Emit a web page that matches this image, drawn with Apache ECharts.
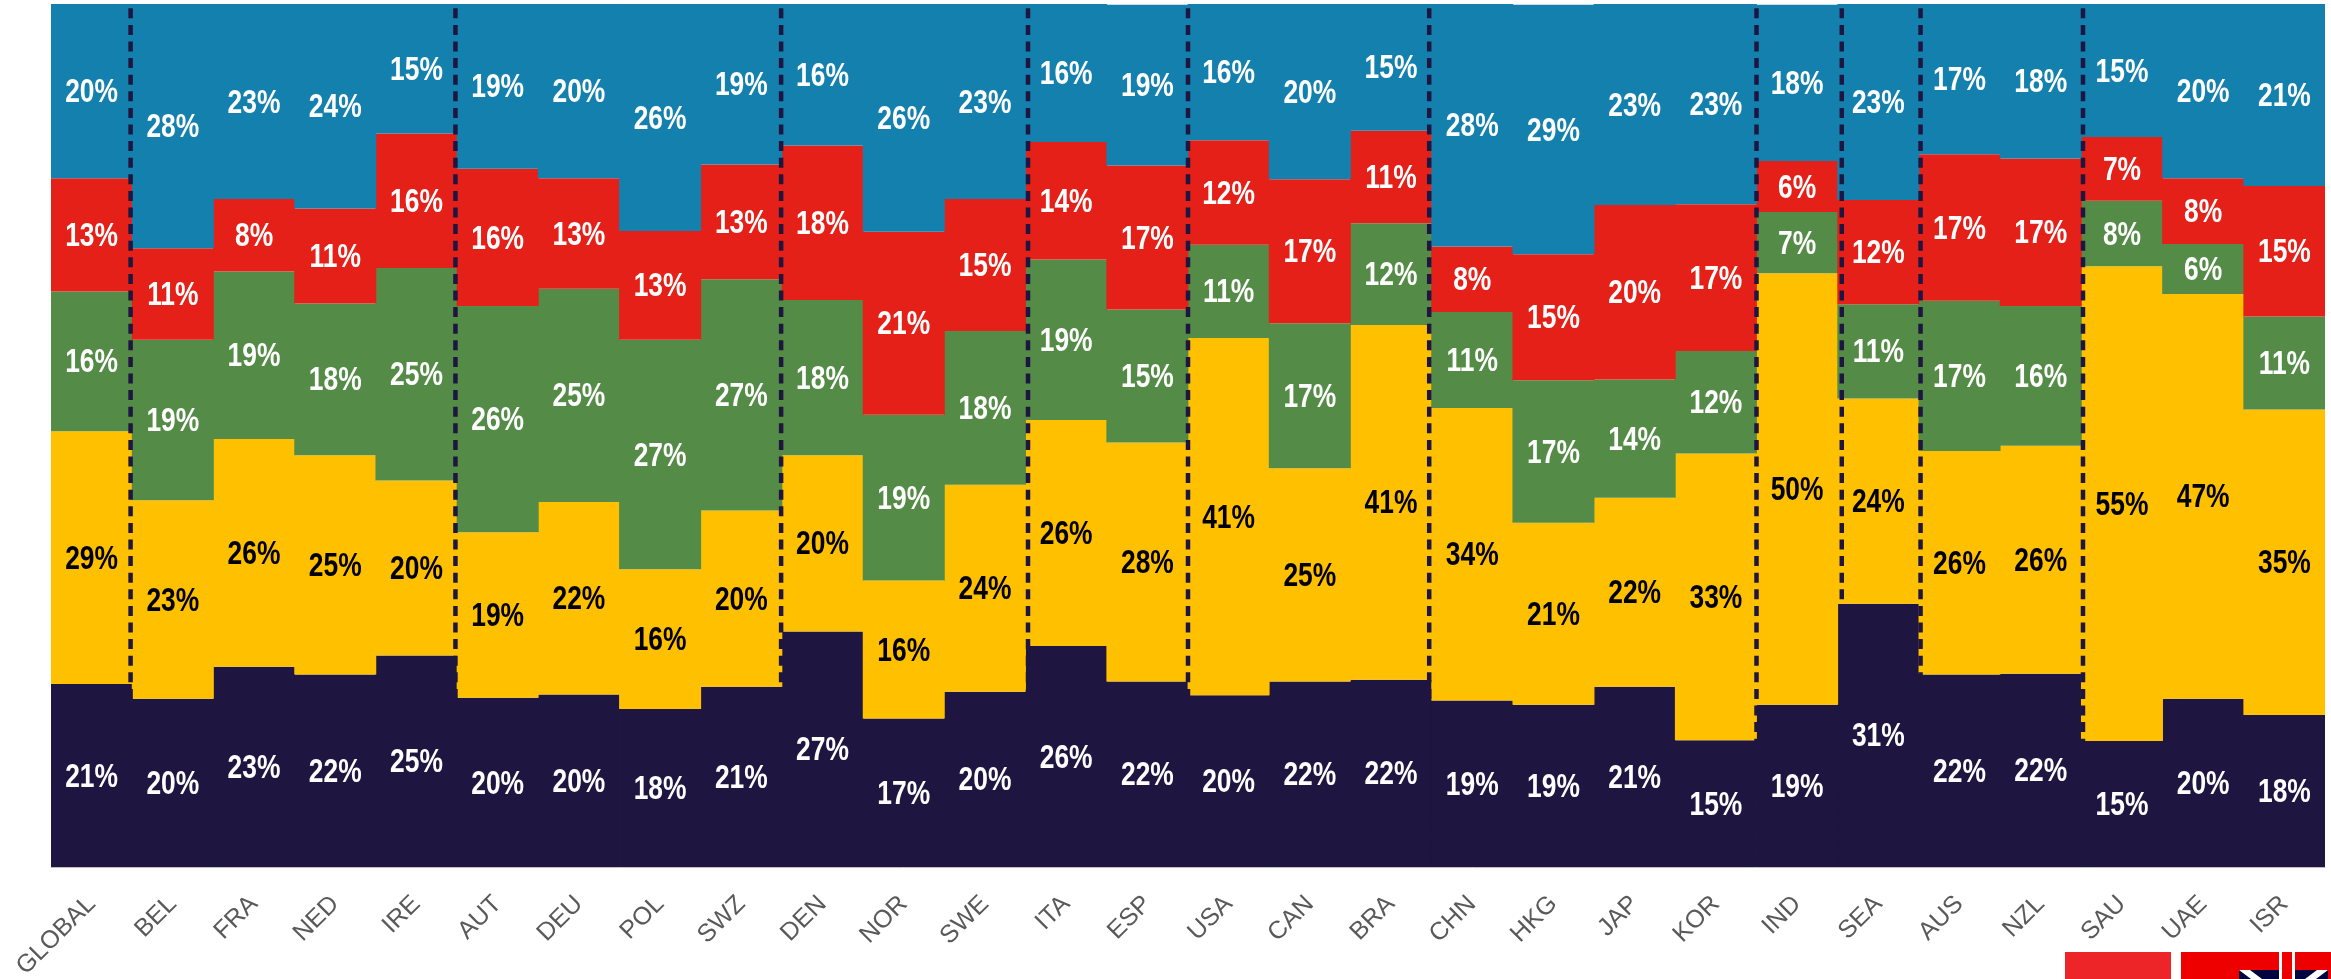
<!DOCTYPE html>
<html>
<head>
<meta charset="utf-8">
<title>Stacked shares by market</title>
<script src="https://cdn.jsdelivr.net/npm/echarts@6/dist/echarts.min.js"></script>
<style>
  html, body { margin: 0; padding: 0; background: #fff; }
  #chart { width: 2331px; height: 979px; }
</style>
</head>
<body>
<div id="chart"></div>
<script>
const categories = ['GLOBAL', 'BEL', 'FRA', 'NED', 'IRE', 'AUT', 'DEU', 'POL', 'SWZ', 'DEN', 'NOR', 'SWE', 'ITA', 'ESP', 'USA', 'CAN', 'BRA', 'CHN', 'HKG', 'JAP', 'KOR', 'IND', 'SEA', 'AUS', 'NZL', 'SAU', 'UAE', 'ISR']

// values, bottom segment first
const navyValues = [21.2, 19.5, 23.2, 22.3, 24.5, 19.6, 20.0, 18.3, 20.9, 27.3, 17.2, 20.3, 25.6, 21.5, 19.9, 21.5, 21.7, 19.3, 18.8, 20.9, 14.7, 18.8, 30.5, 22.3, 22.4, 14.6, 19.5, 17.6]
const yellowValues = [29.3, 23.0, 26.4, 25.4, 20.3, 19.2, 22.3, 16.2, 20.4, 20.4, 16.0, 24.0, 26.2, 27.7, 41.4, 24.7, 41.1, 33.9, 21.1, 21.9, 33.2, 50.0, 23.8, 25.9, 26.4, 55.0, 46.9, 35.4]
const greenValues = [16.2, 18.6, 19.4, 17.6, 24.6, 26.2, 24.7, 26.6, 26.8, 18.0, 19.2, 17.8, 18.6, 15.4, 10.8, 16.8, 11.8, 11.1, 16.5, 13.7, 11.9, 7.1, 10.9, 17.4, 16.2, 7.6, 5.8, 10.8]
const redValues = [13.1, 10.6, 8.4, 11.0, 15.6, 15.9, 12.8, 12.6, 13.3, 17.9, 21.2, 15.3, 13.6, 16.7, 12.1, 16.7, 10.7, 7.6, 14.6, 20.2, 17.0, 5.9, 12.1, 17.0, 17.1, 7.4, 7.6, 15.1]
const blueValues = [20.2, 28.3, 22.6, 23.7, 15.0, 19.2, 20.3, 26.3, 18.6, 16.4, 26.4, 22.6, 16.0, 18.6, 15.8, 20.3, 14.8, 28.2, 28.9, 23.3, 23.2, 18.1, 22.7, 17.4, 17.9, 15.4, 20.2, 21.1]

// where the dashed dividers sit, counted in categories from the left edge
const dividers = [0.98, 4.98, 8.99, 12.03, 14, 16.97, 21, 22.05, 23.02, 25.02]

const segments = [
  { name: 'navy', data: navyValues, color: '#1E1640', label: '#fff' },
  { name: 'yellow', data: yellowValues, color: '#FFC000', label: '#000' },
  { name: 'green', data: greenValues, color: '#548B46', label: '#fff' },
  { name: 'red', data: redValues, color: '#E42018', label: '#fff' },
  { name: 'blue', data: blueValues, color: '#1480AE', label: '#fff' }
]

const barSeries = segments.map(s => ({
  name: s.name,
  type: 'bar',
  stack: 'total',
  // a bit wider than the 81.2px band so no hairline shows between columns
  barWidth: 82,
  data: s.data,
  itemStyle: { color: s.color }
}))

// no narrow font is installed, so the labels are squeezed with scaleX instead
const labelSeries = segments.map((s, idx) => ({
  type: 'custom',
  name: s.name + ' labels',
  silent: true,
  z: 6,
  clip: false,
  data: s.data.map((value, i) => {
    let base = 0
    for (let k = 0; k < idx; k++) base += segments[k].data[i]
    return [i, base + value / 2, value]
  }),
  renderItem: (params, api) => {
    const pt = api.coord([api.value(0), api.value(1)])
    return {
      type: 'text',
      x: pt[0],
      y: pt[1] + 2,
      scaleX: 0.8,
      style: {
        text: Math.round(api.value(2)) + '%',
        fill: s.label,
        font: 'bold 33px "Liberation Sans", Arial, sans-serif',
        align: 'center',
        verticalAlign: 'middle'
      }
    }
  }
}))

const dividerSeries = dividers.map(x => ({
  type: 'line',
  xAxisIndex: 1,
  yAxisIndex: 0,
  showSymbol: false,
  silent: true,
  z: 5,
  data: [[x, 99.5], [x, 0]],
  lineStyle: { color: '#1E1640', width: 4.5, type: [10, 6.6] }
}))

const chart = echarts.init(document.getElementById('chart'))

chart.setOption({
  animation: false,
  grid: { left: 51, right: 6, top: 4, bottom: 112, outerBoundsMode: 'none' },
  xAxis: [
    {
      type: 'category',
      data: categories,
      axisTick: { show: false },
      axisLine: { lineStyle: { color: '#BFBFBF', width: 1 } },
      axisLabel: {
        rotate: 45,
        interval: 0,
        margin: 33,
        color: '#595959',
        fontFamily: '"Liberation Sans", Arial, sans-serif',
        fontSize: 25
      }
    },
    { type: 'value', min: 0, max: 28, show: false }
  ],
  yAxis: { type: 'value', min: 0, max: 100, show: false },
  series: [...barSeries, ...dividerSeries, ...labelSeries],
  // flag fragments cut off at the bottom right corner
  graphic: [
    { type: 'rect', shape: { x: 2065, y: 952, width: 106, height: 27 }, style: { fill: '#EE2528' } },
    { type: 'rect', shape: { x: 2181, y: 952, width: 150, height: 27 }, style: { fill: '#EE0000' } },
    { type: 'rect', shape: { x: 2239, y: 970, width: 89, height: 9 }, style: { fill: '#02043F' } },
    { type: 'polygon', shape: { points: [[2239, 970], [2250, 970], [2262, 979], [2251, 979]] }, style: { fill: '#fff' } },
    { type: 'polygon', shape: { points: [[2317, 970], [2328, 970], [2316, 979], [2305, 979]] }, style: { fill: '#fff' } },
    { type: 'rect', shape: { x: 2279, y: 952, width: 16, height: 27 }, style: { fill: '#fff' } },
    { type: 'rect', shape: { x: 2282, y: 952, width: 10, height: 27 }, style: { fill: '#EE0000' } }
  ]
})
</script>
</body>
</html>
